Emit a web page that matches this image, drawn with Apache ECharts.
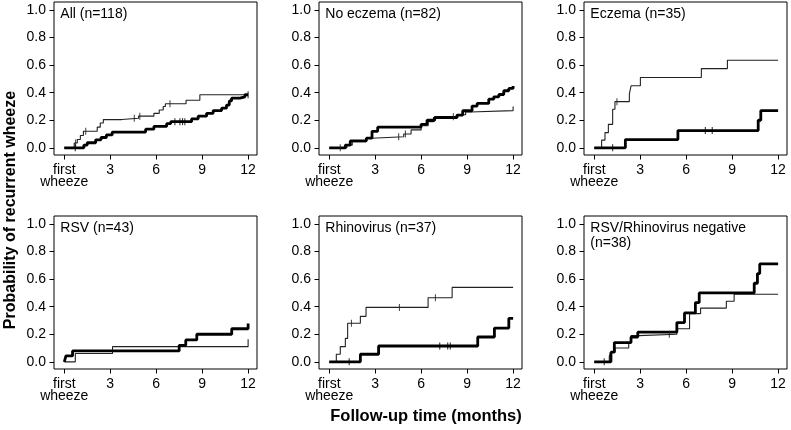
<!DOCTYPE html>
<html>
<head>
<meta charset="utf-8">
<script src="https://cdn.jsdelivr.net/npm/echarts@6/dist/echarts.min.js"></script>
<style>
  html, body { margin: 0; padding: 0; background: #fff; }
  #chart { width: 791px; height: 430px; }
</style>
</head>
<body>
<div id="chart"></div>
<script>
// ---- Data ----
const panelTitles = ['All (n=118)', 'No eczema (n=82)', 'Eczema (n=35)',
  'RSV (n=43)', 'Rhinovirus (n=37)', 'RSV/Rhinovirus negative\n(n=38)'];
const xTicks = [0, 3, 6, 9, 12];
const yTicks = [0, 0.2, 0.4, 0.6, 0.8, 1.0];
const xTitle = 'Follow-up time (months)';
const yTitle = 'Probability of recurrent wheeze';

// Panel 1: All
const allThin = [[0,0],[0.65,0.035],[0.85,0.06],[1.05,0.09],[1.25,0.12],[2.15,0.15],[2.35,0.18],[2.55,0.205],[3.75,0.215],[4.85,0.23],[5.85,0.25],[6.2,0.275],[6.46,0.30],[6.6,0.32],[7.95,0.345],[8.85,0.385],[12,0.385]];
const allThick = [[0,0],[1.28,0.02],[1.5,0.037],[2.05,0.058],[2.4,0.075],[2.75,0.094],[3.13,0.114],[5.31,0.135],[5.85,0.155],[6.68,0.175],[6.95,0.19],[8.31,0.21],[8.74,0.23],[9.29,0.25],[9.72,0.27],[10.27,0.288],[10.59,0.31],[10.77,0.34],[10.92,0.36],[11.46,0.37],[11.79,0.385],[12,0.385]];
const allThinCens = [[0.74,0.035],[1.4,0.12],[4.57,0.215],[4.93,0.23],[6.9,0.32]];
const allThickCens = [[0.72,0],[7.22,0.19],[7.55,0.19],[7.72,0.19],[7.87,0.19],[12,0.385]];

// Panel 2: No eczema
const noEczThin = [[0,0],[1.15,0.02],[1.5,0.045],[2.4,0.07],[2.75,0.08],[4.86,0.10],[5.34,0.13],[6.0,0.16],[6.45,0.19],[6.8,0.22],[7.9,0.225],[8.3,0.24],[8.9,0.26],[9.2,0.27],[12,0.30]];
const noEczThick = [[0,0],[1.05,0.02],[1.37,0.05],[2.42,0.07],[2.79,0.12],[3.16,0.15],[5.99,0.17],[6.38,0.2],[6.88,0.22],[8.34,0.237],[8.71,0.269],[9.32,0.303],[9.65,0.322],[10.41,0.353],[10.74,0.37],[11.07,0.387],[11.39,0.414],[11.72,0.431],[12,0.448]];
const noEczThinCens = [[0.72,0],[4.53,0.08],[4.97,0.10],[8.1,0.225]];
const noEczThickCens = [];

// Panel 3: Eczema
const eczThin = [[0,0],[0.48,0.056],[0.7,0.11],[0.92,0.17],[1.2,0.28],[1.35,0.335],[2.29,0.39],[2.4,0.45],[3.01,0.51],[6.99,0.575],[8.69,0.635],[12,0.635]];
const eczThick = [[0,0],[2.03,0.06],[5.46,0.125],[10.7,0.2],[10.87,0.27],[12,0.27]];
const eczThinCens = [[1.48,0.335]];
const eczThickCens = [[1.2,0],[7.25,0.125],[7.7,0.125]];

// Panel 4: RSV
const rsvThin = [[0,0],[0.72,0.06],[3.15,0.11],[12,0.163]];
const rsvThick = [[0,0],[0.11,0.043],[0.54,0.079],[7.5,0.12],[7.93,0.159],[8.65,0.2],[10.93,0.24],[12,0.279]];
const rsvThinCens = [];
const rsvThickCens = [];

// Panel 5: Rhinovirus
const rhinoThin = [[0,0],[0.46,0.055],[0.72,0.11],[1.05,0.17],[1.2,0.28],[2.03,0.33],[2.4,0.395],[6.45,0.465],[8.02,0.54],[12,0.54]];
const rhinoThick = [[0,0],[2.03,0.055],[3.22,0.115],[9.69,0.18],[10.78,0.245],[11.72,0.315],[12,0.315]];
const rhinoThinCens = [[1.45,0.28],[4.58,0.395],[6.93,0.465]];
const rhinoThickCens = [[1.3,0],[7.21,0.115],[7.73,0.115],[7.9,0.115]];

// Panel 6: RSV/Rhinovirus negative
const negThin = [[0,0],[0.98,0.04],[1.1,0.07],[1.35,0.1],[2.25,0.14],[2.4,0.19],[2.9,0.2],[5.39,0.24],[6.22,0.35],[6.94,0.39],[8.62,0.44],[9.13,0.49],[12,0.49]];
const negThick = [[0,0],[1.09,0.07],[1.31,0.14],[2.4,0.18],[2.84,0.215],[5.39,0.285],[5.89,0.355],[6.6,0.43],[6.85,0.5],[10.44,0.57],[10.65,0.64],[10.8,0.71],[12,0.71]];
const negThinCens = [[4.9,0.2]];
const negThickCens = [[0.65,0]];

const thinSets = [allThin, noEczThin, eczThin, rsvThin, rhinoThin, negThin];
const thickSets = [allThick, noEczThick, eczThick, rsvThick, rhinoThick, negThick];
const thinCensSets = [allThinCens, noEczThinCens, eczThinCens, rsvThinCens, rhinoThinCens, negThinCens];
const thickCensSets = [allThickCens, noEczThickCens, eczThickCens, rsvThickCens, rhinoThickCens, negThickCens];

// ---- Layout / style ----
const FONT = '"Liberation Sans", Arial, Helvetica, sans-serif';
const gridLefts = [54, 319, 584];
const gridTops = [2, 216];
const GW = 203, GH = 153;

const chart = echarts.init(document.getElementById('chart'), null, { renderer: 'canvas' });

const grids = [], xAxes = [], yAxes = [], series = [], titles = [];
for (let i = 0; i < 6; i++) {
  const left = gridLefts[i % 3], top = gridTops[Math.floor(i / 3)];
  grids.push({ left: left, top: top, width: GW, height: GH, show: true,
    borderColor: '#000', borderWidth: 1, backgroundColor: 'transparent', containLabel: false });
  xAxes.push({
    gridIndex: i, type: 'value', min: -0.67, max: 12.58,
    axisLine: { show: false, onZero: false },
    splitLine: { show: false },
    axisTick: { show: true, customValues: xTicks, length: 4.5, lineStyle: { color: '#000', width: 1 } },
    axisLabel: { customValues: xTicks, margin: 9, fontSize: 14, fontFamily: FONT, color: '#000', lineHeight: 12,
      formatter: v => (v === 0 ? 'first\nwheeze' : String(v)) }
  });
  yAxes.push({
    gridIndex: i, type: 'value', min: -0.052, max: 1.058,
    axisLine: { show: false, onZero: false },
    splitLine: { show: false },
    axisTick: { show: true, customValues: yTicks, length: 4.5, lineStyle: { color: '#000', width: 1 } },
    axisLabel: { customValues: yTicks, margin: 8, fontSize: 14, fontFamily: FONT, color: '#000',
      formatter: v => v.toFixed(1) }
  });
  titles.push({ text: panelTitles[i], left: left + 6.3, top: top + 5, padding: 0,
    textStyle: { fontSize: 14, fontWeight: 'normal', fontFamily: FONT, color: '#000', lineHeight: 15 } });

  series.push({ type: 'line', xAxisIndex: i, yAxisIndex: i, data: thinSets[i], step: 'end',
    symbol: 'none', lineStyle: { color: '#222', width: 1.1 }, z: 2 });
  series.push({ type: 'line', xAxisIndex: i, yAxisIndex: i, data: thickSets[i], step: 'end',
    symbol: 'none', lineStyle: { color: '#000', width: 2.8 }, z: 3 });
  series.push({ type: 'scatter', xAxisIndex: i, yAxisIndex: i, data: thinCensSets[i],
    symbol: 'rect', symbolSize: [1.1, 7], itemStyle: { color: '#222' }, z: 4 });
  series.push({ type: 'scatter', xAxisIndex: i, yAxisIndex: i, data: thickCensSets[i],
    symbol: 'rect', symbolSize: [1.1, 7], itemStyle: { color: '#000' }, z: 4 });
}

chart.setOption({
  animation: false,
  backgroundColor: '#fff',
  title: titles,
  grid: grids,
  xAxis: xAxes,
  yAxis: yAxes,
  series: series,
  graphic: [
    { type: 'text', x: 426, y: 416, style: { text: xTitle, textAlign: 'center', textVerticalAlign: 'middle',
      font: 'bold 16.5px ' + FONT, fill: '#000' } },
    { type: 'text', x: 11, y: 210, rotation: Math.PI / 2, style: { text: yTitle, textAlign: 'center',
      textVerticalAlign: 'middle', font: 'bold 16px ' + FONT, fill: '#000' } }
  ]
});
</script>
</body>
</html>
